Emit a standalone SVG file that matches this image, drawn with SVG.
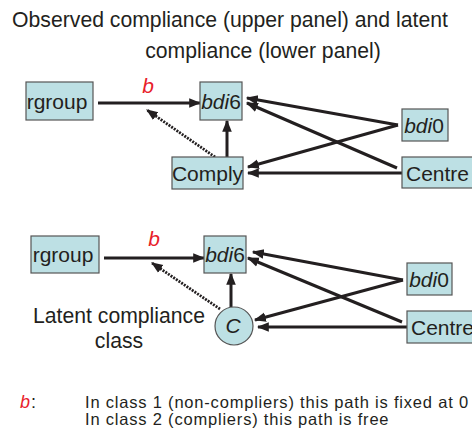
<svg xmlns="http://www.w3.org/2000/svg" width="472" height="432" viewBox="0 0 472 432">
  <style>
    text { font-family: "Liberation Sans", Arial, sans-serif; fill: #231f20; }
    .box { fill: #bde0e4; stroke: #555; stroke-width: 1.2; }
    .lbl { font-size: 21px; }
    .it { font-style: italic; }
    .red { fill: #e8202a; font-style: italic; }
    .note { font-size: 16.5px; letter-spacing: 0.8px; }
    .edge { stroke: #231f20; stroke-width: 3; fill: none; marker-end: url(#ah); }
    .dot { stroke: #231f20; stroke-width: 2.8; fill: none; stroke-dasharray: 2 1.2; marker-end: url(#ahs); }
  </style>
  <defs>
    <marker id="ah" viewBox="0 0 10 10" refX="9" refY="5" markerWidth="4" markerHeight="4" orient="auto" markerUnits="strokeWidth">
      <path d="M0,1 L10,5 L0,9 z" fill="#231f20"/>
    </marker>
    <marker id="ahs" viewBox="0 0 10 10" refX="9" refY="5" markerWidth="4.2" markerHeight="4.2" orient="auto" markerUnits="strokeWidth">
      <path d="M0,1 L10,5 L0,9 z" fill="#231f20"/>
    </marker>
  </defs>

  <!-- title -->
  <text x="230" y="27" font-size="21.2" text-anchor="middle">Observed compliance (upper panel) and latent</text>
  <text x="263" y="58" font-size="21.2" text-anchor="middle">compliance (lower panel)</text>

  <!-- connectors -->
  <g id="connectors">
    <!-- upper panel -->
    <line class="edge" x1="98" y1="103" x2="200" y2="103"/>
    <line class="dot" x1="215" y1="157" x2="147" y2="110"/>
    <line class="edge" x1="227" y1="157" x2="227" y2="121"/>
    <line class="edge" x1="398" y1="125" x2="247" y2="98"/>
    <line class="edge" x1="397" y1="168" x2="247" y2="103"/>
    <line class="edge" x1="398" y1="125" x2="248" y2="167"/>
    <line class="edge" x1="402" y1="173" x2="248" y2="173"/>
    <!-- lower panel -->
    <line class="edge" x1="104" y1="258" x2="204" y2="258"/>
    <line class="dot" x1="220" y1="309" x2="152" y2="263"/>
    <line class="edge" x1="231" y1="307" x2="231" y2="274"/>
    <line class="edge" x1="403" y1="280" x2="253" y2="252"/>
    <line class="edge" x1="402" y1="322" x2="248" y2="258"/>
    <line class="edge" x1="403" y1="280" x2="255" y2="320"/>
    <line class="edge" x1="407" y1="327" x2="258" y2="327"/>
  </g>

  <!-- path labels -->
  <text class="red" x="148" y="93" font-size="21" text-anchor="middle">b</text>
  <text class="red" x="154" y="246" font-size="21" text-anchor="middle">b</text>

  <!-- upper panel nodes -->
  <g id="u-rgroup">
    <rect class="box" x="26" y="82" width="67" height="38"/>
    <text class="lbl" x="57" y="109" text-anchor="middle">rgroup</text>
  </g>
  <g id="u-bdi6">
    <rect class="box" x="200" y="82" width="42" height="38"/>
    <text class="lbl" x="221" y="109" text-anchor="middle"><tspan class="it">bdi</tspan>6</text>
  </g>
  <g id="u-comply">
    <rect class="box" x="172" y="157" width="71" height="32"/>
    <text class="lbl" x="207.5" y="181" text-anchor="middle">Comply</text>
  </g>
  <g id="u-bdi0">
    <rect class="box" x="402" y="109" width="46" height="32"/>
    <text class="lbl" x="424" y="133" text-anchor="middle"><tspan class="it">bdi</tspan>0</text>
  </g>
  <g id="u-centre">
    <rect class="box" x="402" y="157" width="72" height="31"/>
    <text class="lbl" x="406" y="181">Centre</text>
  </g>

  <!-- lower panel nodes -->
  <g id="l-rgroup">
    <rect class="box" x="31" y="236" width="68" height="37"/>
    <text class="lbl" x="63" y="262" text-anchor="middle">rgroup</text>
  </g>
  <g id="l-bdi6">
    <rect class="box" x="204" y="236" width="42" height="37"/>
    <text class="lbl" x="225" y="262" text-anchor="middle"><tspan class="it">bdi</tspan>6</text>
  </g>
  <g id="l-c">
    <circle cx="234" cy="326" r="19" fill="#bde0e4" stroke="#555" stroke-width="1.2"/>
    <text class="lbl it" x="233" y="333" text-anchor="middle">C</text>
  </g>
  <g id="l-bdi0">
    <rect class="box" x="407" y="263" width="45" height="32"/>
    <text class="lbl" x="429" y="287" text-anchor="middle"><tspan class="it">bdi</tspan>0</text>
  </g>
  <g id="l-centre">
    <rect class="box" x="407" y="311" width="70" height="32"/>
    <text class="lbl" x="411" y="335">Centre</text>
  </g>
  <text x="119" y="323" font-size="21.2" text-anchor="middle">Latent compliance</text>
  <text x="119" y="348" font-size="21.2" text-anchor="middle">class</text>

  <!-- footnote -->
  <text class="red" x="20" y="407.5" font-size="18">b</text>
  <text x="31" y="407.5" font-size="18">:</text>
  <text class="note" x="85" y="407.5">In class 1 (non-compliers) this path is fixed at 0</text>
  <text class="note" x="85" y="425">In class 2 (compliers) this path is free</text>
</svg>
